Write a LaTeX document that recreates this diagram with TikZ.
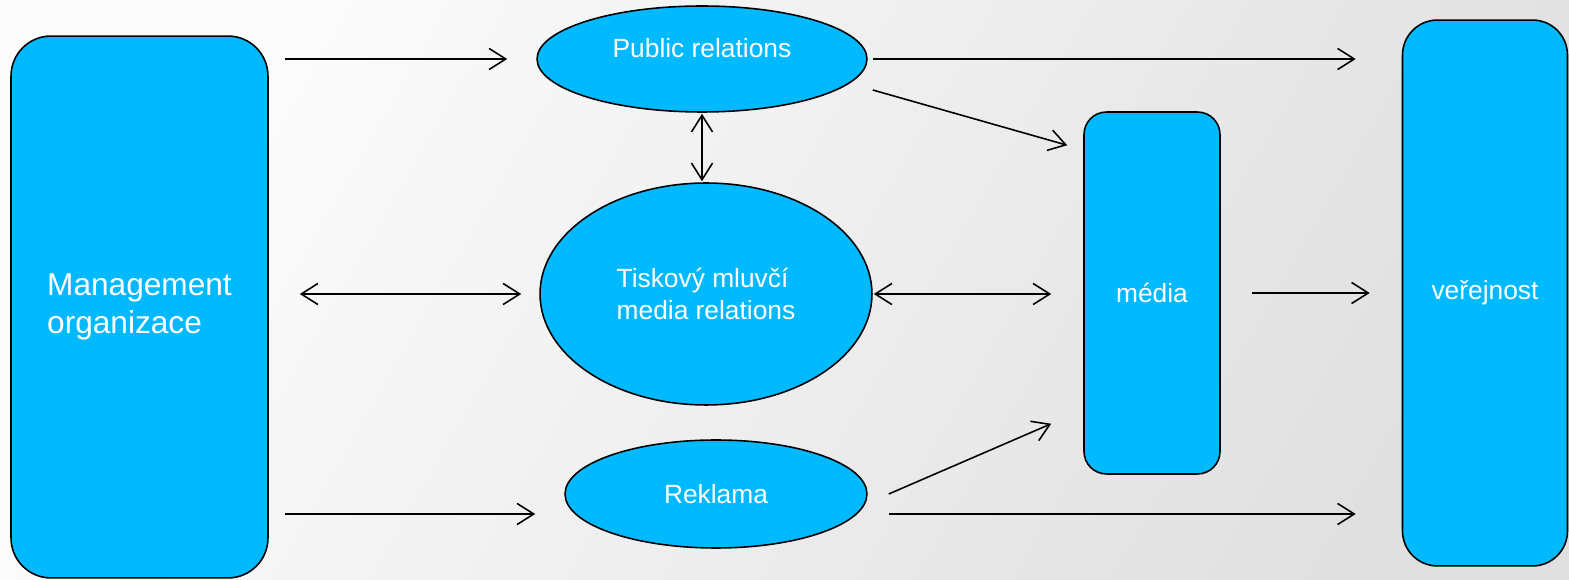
\documentclass[tikz,border=0pt]{standalone}
\usepackage{fontspec}
\setmainfont{Liberation Sans}
\usetikzlibrary{shapes.geometric,arrows.meta}
\definecolor{boxblue}{RGB}{0,185,255}

\begin{document}
\begin{tikzpicture}[x=0.02cm,y=-0.02cm,
    >={Straight Barb[length=9.5pt,width=12pt]},
    every path/.style={line width=0.9pt},
    oval/.style={ellipse,draw=black,fill=boxblue,inner sep=0pt,text=white,font=\fontsize{15}{18}\selectfont},
    block/.style={rectangle,draw=black,fill=boxblue,inner sep=0pt,text=white,font=\fontsize{15}{18}\selectfont}]
   % background
   \shade[top color=black!1,bottom color=black!12,shading angle=60] (0,0) rectangle (1569,580);
   \useasboundingbox (0,0) rectangle (1569,580);
   \begin{scope}
    \node[block,rounded corners=0.8cm,minimum width=5.14cm,minimum height=10.84cm,align=left,
          font=\fontsize{18}{21.6}\selectfont] (mgmt) at (139.5,307) {Management\\organizace};
    \node[oval,minimum width=6.6cm,minimum height=2.12cm,text height=11pt,text depth=12.6pt] (pr) at (702,59) {Public relations};
    \node[oval,minimum width=6.64cm,minimum height=4.44cm,align=left] (tisk) at (706,294) {Tiskový mluvčí\\media relations};
    \node[oval,minimum width=6.04cm,minimum height=2.16cm] (rek) at (716,494) {Reklama};
    \node[block,rounded corners=0.45cm,minimum width=2.72cm,minimum height=7.24cm] (media) at (1152,293) {média};
    \node[block,rounded corners=0.7cm,minimum width=3.3cm,minimum height=10.92cm] (ver) at (1485,293) {veřejnost};
   \end{scope}
   \coordinate (prout) at ([shift={(5,31)}]pr.east);
   \coordinate (mediain) at ([shift={(-16,34)}]media.north west);
   \coordinate (rekin) at ([shift={(0,20)}]rek.west);
   \coordinate (rekout) at ([shift={(21,0)}]rek.east);
   \coordinate (rekout2) at ([shift={(21,20)}]rek.east);
   \coordinate (mediain2) at ([shift={(-32,-51)}]media.south west);
   \begin{scope}
    \draw[->,shorten <=0.32cm,shorten >=0.58cm] (mgmt.east |- pr.west) -- (pr.west);
    \draw[->,shorten <=0.1cm,shorten >=0.92cm] (pr.east) -- (ver.west |- pr.east);
    \draw[->] (prout) -- (mediain);
    \draw[<->,shorten <=0.02cm,shorten >=0.02cm] (pr.south) -- (pr.south |- tisk.north);
    \draw[<->,shorten <=0.62cm,shorten >=0.36cm] (mgmt.east |- tisk.west) -- (tisk.west);
    \draw[<->,shorten <=0.02cm,shorten >=0.64cm] (tisk.east) -- (media.west |- tisk.east);
    \draw[->,shorten <=0.62cm,shorten >=0.64cm] (media.east) -- (ver.west |- media.east);
    \draw[->,shorten <=0.32cm,shorten >=0.58cm] (mgmt.east |- rekin) -- (rekin);
    \draw[->] (rekout) -- (mediain2);
    \draw[->,shorten >=0.92cm] (rekout2) -- (ver.west |- rekout2);
   \end{scope}
\end{tikzpicture}
\end{document}
